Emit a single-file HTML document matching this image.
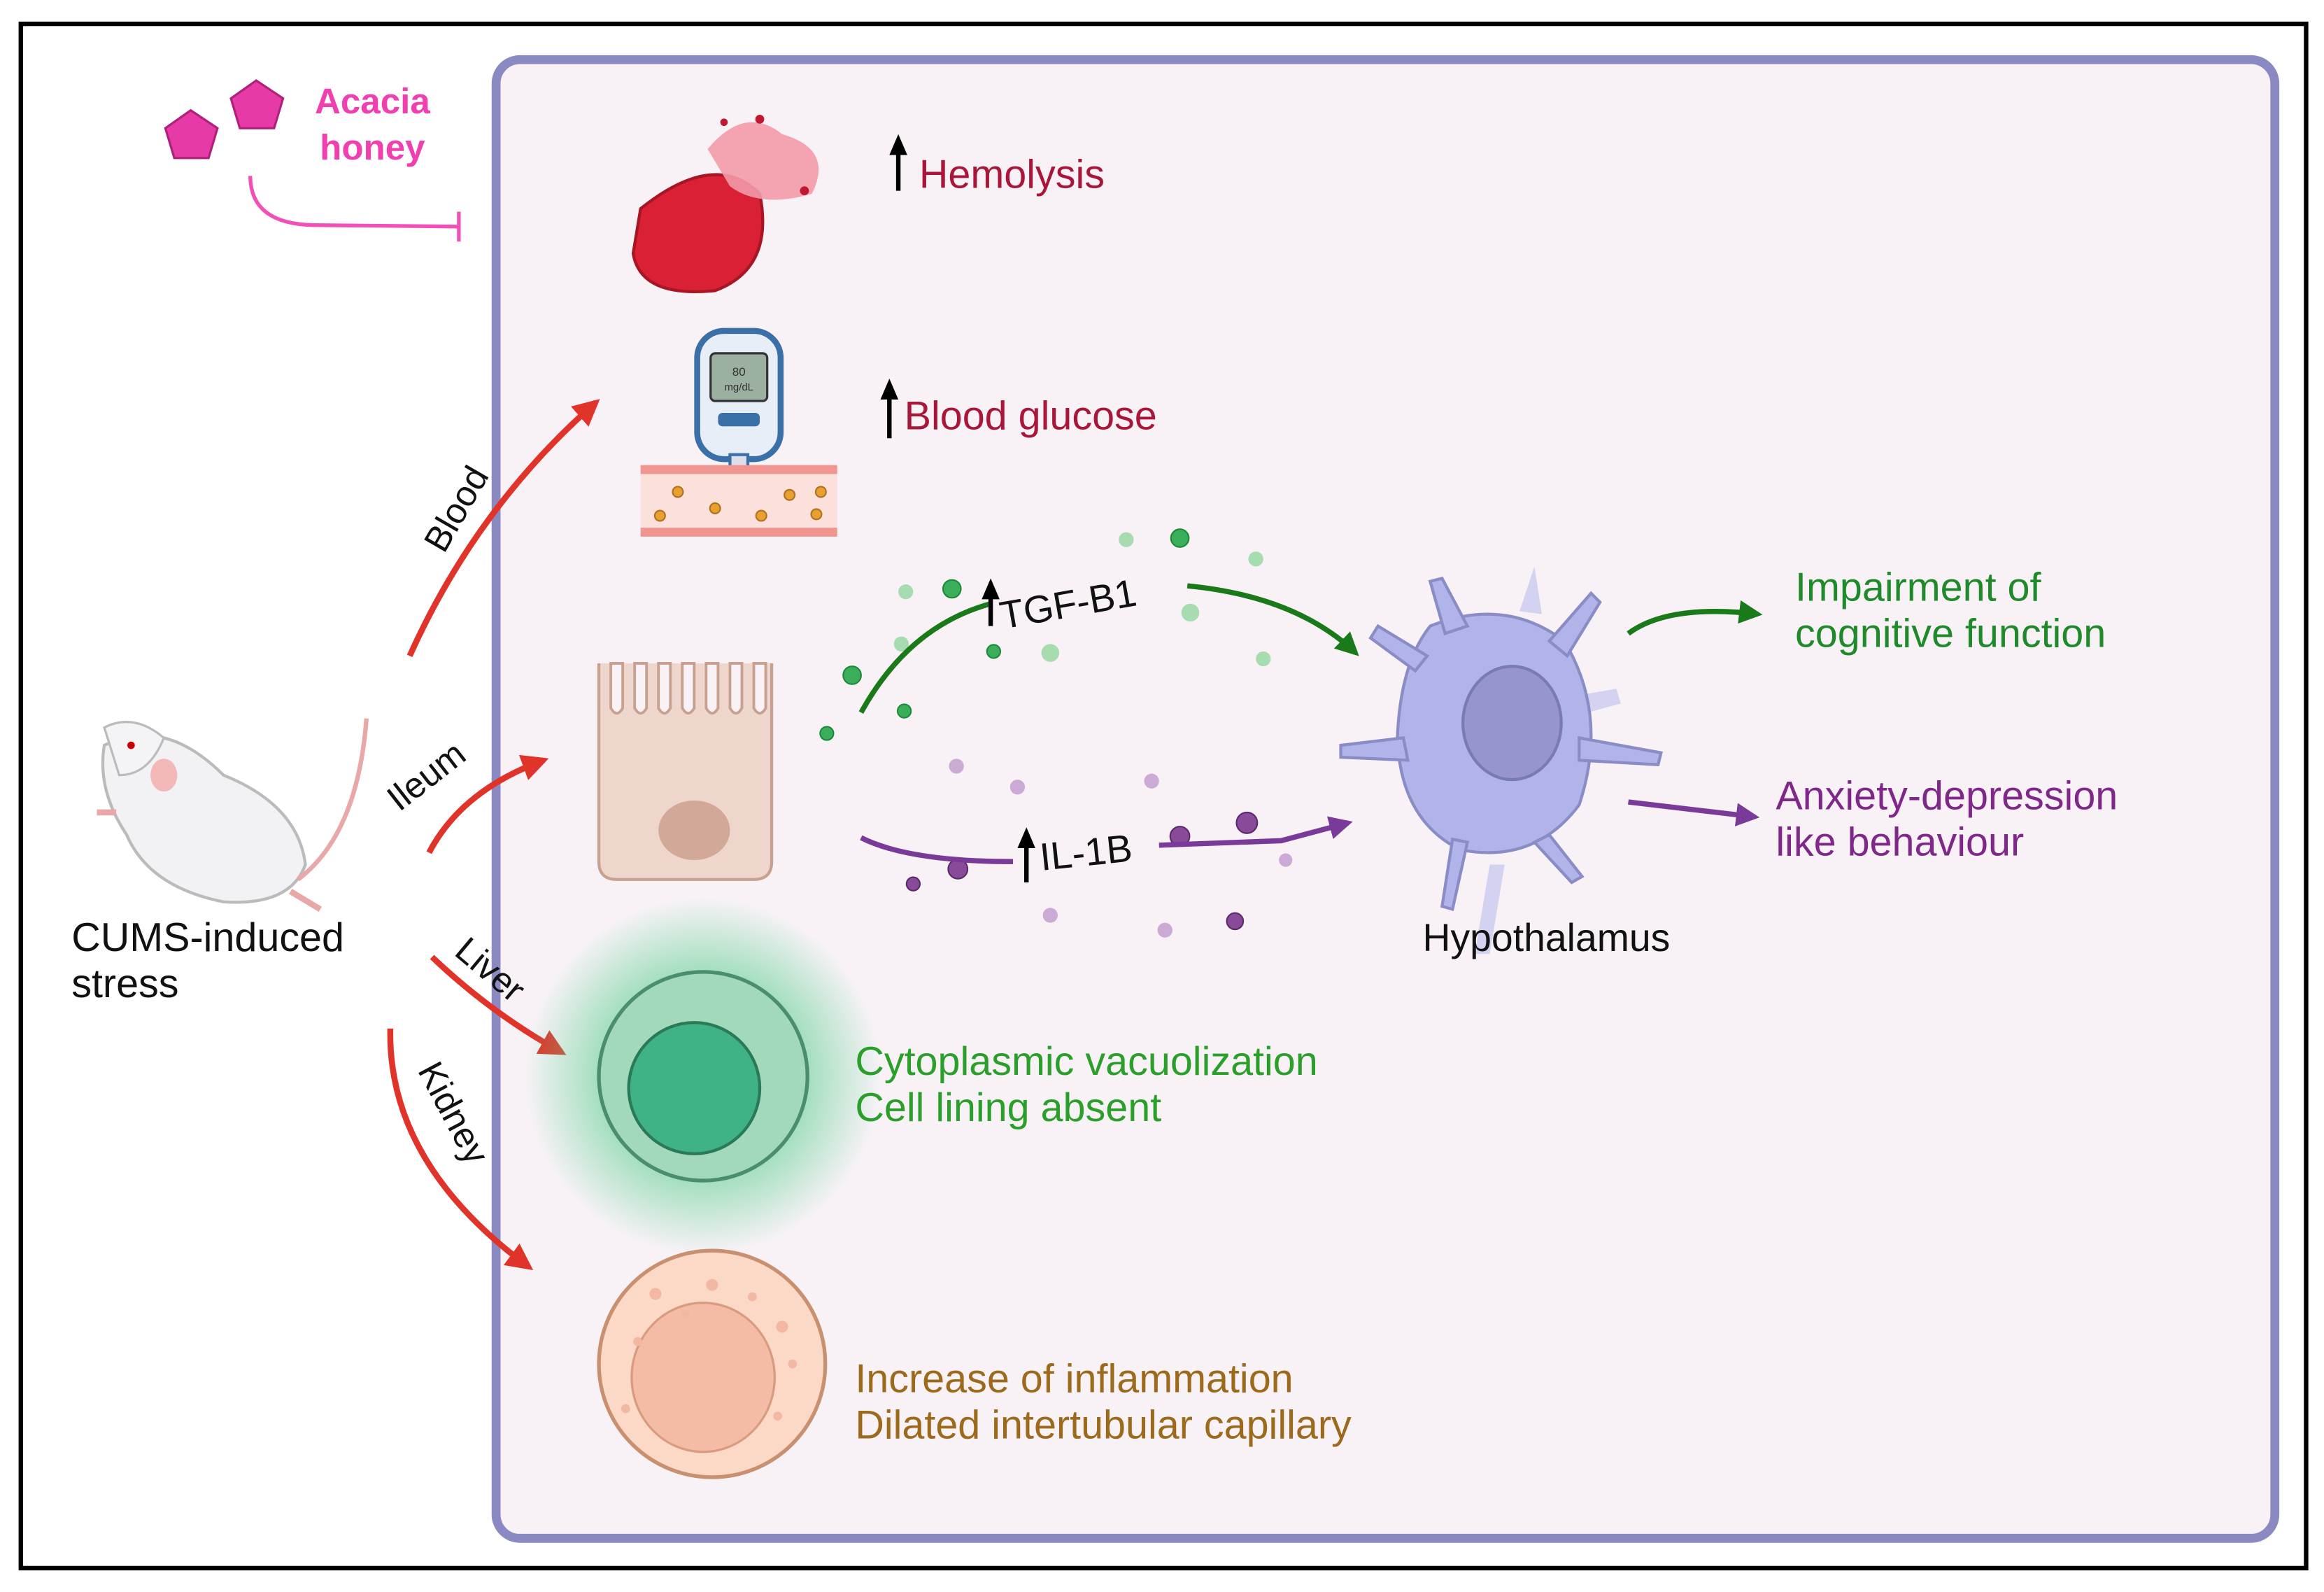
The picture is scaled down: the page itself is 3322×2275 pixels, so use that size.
<!DOCTYPE html>
<html><head><meta charset="utf-8"><style>
html,body{margin:0;padding:0;background:#fff;}
svg{display:block;}
text{font-family:"Liberation Sans","DejaVu Sans",sans-serif;}
</style></head><body>
<svg width="3322" height="2275" viewBox="0 0 1560 1068" preserveAspectRatio="none" xmlns="http://www.w3.org/2000/svg">
<defs>
<marker id="ar" viewBox="0 0 10 10" refX="8" refY="5" markerWidth="4.5" markerHeight="4.5" orient="auto"><path d="M0,0 L10,5 L0,10 z" fill="#e0342a"/></marker>
<marker id="ag" viewBox="0 0 10 10" refX="8" refY="5" markerWidth="4.5" markerHeight="4.5" orient="auto"><path d="M0,0 L10,5 L0,10 z" fill="#1a7a1a"/></marker>
<marker id="ap" viewBox="0 0 10 10" refX="8" refY="5" markerWidth="4.5" markerHeight="4.5" orient="auto"><path d="M0,0 L10,5 L0,10 z" fill="#7a3a9a"/></marker>
<radialGradient id="glow"><stop offset="0.55" stop-color="#5fcf90" stop-opacity="0.6"/><stop offset="1" stop-color="#5fcf90" stop-opacity="0"/></radialGradient>
</defs>
<rect x="0" y="0" width="1560" height="1068" fill="#fff"/>
<rect x="14" y="16" width="1534" height="1036" fill="#fff" stroke="#000" stroke-width="3"/>
<rect x="333" y="40" width="1194" height="992" rx="16" fill="#f8f2f7" stroke="#8b89c2" stroke-width="6"/>

<!-- honey -->
<polygon points="128,74 146,86 140,106 117,106 111,86" fill="#e63aa6" stroke="#b0207a" stroke-width="1.5"/>
<polygon points="172,54 190,66 184,86 161,86 155,66" fill="#e63aa6" stroke="#b0207a" stroke-width="1.5"/>
<text x="250" y="76" font-size="24" font-weight="bold" fill="#f040b0" text-anchor="middle">Acacia</text>
<text x="250" y="107" font-size="24" font-weight="bold" fill="#f040b0" text-anchor="middle">honey</text>
<path d="M168,118 Q168,150 210,151 L308,152" fill="none" stroke="#f050b8" stroke-width="2.5"/>
<line x1="308" y1="142" x2="308" y2="162" stroke="#f050b8" stroke-width="2.5"/>

<!-- RBC -->
<path d="M430,140 Q480,100 510,130 Q520,180 480,195 Q430,200 425,170 Z" fill="#d92035" stroke="#a81525" stroke-width="2"/>
<path d="M475,100 Q500,70 525,90 Q560,100 545,130 Q510,140 490,125 Z" fill="#f39aa8" opacity="0.9"/>
<circle cx="510" cy="80" r="3" fill="#c01830"/><circle cx="540" cy="128" r="3" fill="#c01830"/><circle cx="486" cy="82" r="2.5" fill="#c01830"/>
<path d="M603,128 L603,96" stroke="#000" stroke-width="3" marker-end="url(#ak)"/>
<polygon points="603,90 597,104 609,104" fill="#000"/>
<text x="617" y="126" font-size="27" fill="#a8163a">Hemolysis</text>

<!-- glucometer -->
<rect x="468" y="222" width="56" height="86" rx="18" fill="#e8eef8" stroke="#3a6fa8" stroke-width="4"/>
<rect x="477" y="237" width="38" height="32" rx="3" fill="#9bb0a0" stroke="#333" stroke-width="1.5"/>
<text x="496" y="252" font-size="8" fill="#333" text-anchor="middle">80</text>
<text x="496" y="262" font-size="7" fill="#333" text-anchor="middle">mg/dL</text>
<rect x="482" y="277" width="28" height="9" rx="3" fill="#3a6fa8"/>
<rect x="490" y="305" width="12" height="24" fill="#dde" stroke="#3a6fa8" stroke-width="2"/>
<rect x="430" y="314" width="132" height="46" fill="#fbe0dc"/>
<rect x="430" y="312" width="132" height="6" fill="#f0958f"/>
<rect x="430" y="354" width="132" height="6" fill="#f0958f"/>
<g fill="#e8a030" stroke="#b07020" stroke-width="1"><circle cx="455" cy="330" r="3.5"/><circle cx="443" cy="346" r="3.5"/><circle cx="480" cy="341" r="3.5"/><circle cx="511" cy="346" r="3.5"/><circle cx="530" cy="332" r="3.5"/><circle cx="548" cy="345" r="3.5"/><circle cx="551" cy="330" r="3.5"/></g>
<polygon points="597,254 591,268 603,268" fill="#000"/><line x1="597" y1="264" x2="597" y2="294" stroke="#000" stroke-width="3"/>
<text x="607" y="288" font-size="27" fill="#a8163a">Blood glucose</text>

<!-- red arrows -->
<path d="M275,440 Q320,340 400,270" fill="none" stroke="#e0342a" stroke-width="4" marker-end="url(#ar)"/>
<text transform="translate(298,372) rotate(-60)" font-size="24" fill="#111">Blood</text>
<path d="M288,572 Q310,530 365,510" fill="none" stroke="#e0342a" stroke-width="4" marker-end="url(#ar)"/>
<text transform="translate(268,545) rotate(-38)" font-size="24" fill="#111">Ileum</text>
<path d="M290,642 Q330,680 377,706" fill="none" stroke="#e0342a" stroke-width="4" marker-end="url(#ar)"/>
<text transform="translate(304,640) rotate(40)" font-size="24" fill="#111">Liver</text>
<path d="M262,690 Q260,780 355,850" fill="none" stroke="#e0342a" stroke-width="4" marker-end="url(#ar)"/>
<text transform="translate(280,718) rotate(62)" font-size="24" fill="#111">Kidney</text>

<!-- mouse -->
<g>
<path d="M70,500 Q110,480 150,520 Q200,540 205,580 Q195,608 150,605 Q100,595 85,560 Q65,530 70,500 Z" fill="#f2f2f4" stroke="#bbb" stroke-width="2"/>
<path d="M70,488 Q90,478 110,495 Q100,520 80,520 Z" fill="#f4f4f6" stroke="#bbb" stroke-width="1.5"/>
<ellipse cx="110" cy="520" rx="9" ry="11" fill="#f3b8b8"/>
<circle cx="88" cy="500" r="2.5" fill="#c00"/>
<path d="M200,590 Q240,560 246,482" fill="none" stroke="#e8a8a8" stroke-width="3"/>
<path d="M195,598 L215,610" stroke="#e8a8a8" stroke-width="4"/>
<path d="M65,545 L78,545" stroke="#e8a8a8" stroke-width="4"/>
</g>
<text x="48" y="638" font-size="27" fill="#111">CUMS-induced</text>
<text x="48" y="669" font-size="27" fill="#111">stress</text>

<!-- ileum cell -->
<path d="M402,445 L402,578 Q402,590 414,590 L506,590 Q518,590 518,578 L518,445" fill="#eed6cc" stroke="#c8a090" stroke-width="2"/>
<g fill="#f8f2f7" stroke="#c8a090" stroke-width="1.8">
<path d="M410,445 L410,475 Q414,482 418,475 L418,445 Z"/><path d="M426,445 L426,475 Q430,482 434,475 L434,445 Z"/><path d="M442,445 L442,475 Q446,482 450,475 L450,445 Z"/><path d="M458,445 L458,475 Q462,482 466,475 L466,445 Z"/><path d="M474,445 L474,475 Q478,482 482,475 L482,445 Z"/><path d="M490,445 L490,475 Q494,482 498,475 L498,445 Z"/><path d="M506,445 L506,475 Q510,482 514,475 L514,445 Z"/>
</g>
<ellipse cx="466" cy="557" rx="24" ry="20" fill="#d2a898"/>

<!-- liver cell -->
<circle cx="472" cy="722" r="120" fill="url(#glow)"/>
<circle cx="472" cy="722" r="70" fill="#a3d9bb" stroke="#4a8f6c" stroke-width="2.5"/>
<circle cx="466" cy="730" r="44" fill="#3fb286" stroke="#2a7a5a" stroke-width="2"/>
<text x="574" y="721" font-size="27" fill="#2aa02a">Cytoplasmic vacuolization</text>
<text x="574" y="752" font-size="27" fill="#2aa02a">Cell lining absent</text>

<!-- kidney cell -->
<circle cx="478" cy="915" r="76" fill="#fbd9c6" stroke="#c8906f" stroke-width="2.5"/>
<ellipse cx="472" cy="924" rx="48" ry="50" fill="#f4bca4" stroke="#d99a80" stroke-width="1.5"/>
<g fill="#f2b8a4"><circle cx="440" cy="868" r="4"/><circle cx="478" cy="862" r="4"/><circle cx="505" cy="870" r="3"/><circle cx="525" cy="890" r="4"/><circle cx="532" cy="915" r="3"/><circle cx="522" cy="950" r="3"/><circle cx="428" cy="900" r="3"/><circle cx="420" cy="945" r="3"/><circle cx="460" cy="882" r="3"/></g>
<text x="574" y="934" font-size="27" fill="#9c6a1a">Increase of inflammation</text>
<text x="574" y="965" font-size="27" fill="#9c6a1a">Dilated intertubular capillary</text>

<!-- TGF dots -->
<g fill="#3aae5a" stroke="#1d8a3a" stroke-width="1"><circle cx="639" cy="395" r="6"/><circle cx="792" cy="361" r="6"/><circle cx="572" cy="453" r="6"/><circle cx="667" cy="437" r="4.5"/><circle cx="607" cy="477" r="4.5"/><circle cx="555" cy="492" r="4.5"/></g>
<g fill="#a6dcb0"><circle cx="608" cy="397" r="5"/><circle cx="756" cy="362" r="5"/><circle cx="843" cy="375" r="5"/><circle cx="799" cy="411" r="6"/><circle cx="605" cy="432" r="5"/><circle cx="705" cy="438" r="6"/><circle cx="848" cy="442" r="5"/></g>
<path d="M578,478 Q610,420 665,405" fill="none" stroke="#1a7a1a" stroke-width="3.5"/>
<path d="M797,393 Q870,400 910,438" fill="none" stroke="#1a7a1a" stroke-width="3.5" marker-end="url(#ag)"/>
<polygon points="665,388 659,402 671,402" fill="#000"/><line x1="665" y1="398" x2="665" y2="420" stroke="#000" stroke-width="3"/>
<text transform="translate(673,422) rotate(-10)" font-size="26" fill="#111">TGF-B1</text>

<!-- IL dots -->
<g fill="#cbaad6"><circle cx="642" cy="514" r="5"/><circle cx="683" cy="528" r="5"/><circle cx="773" cy="524" r="5"/><circle cx="705" cy="614" r="5"/><circle cx="782" cy="624" r="5"/><circle cx="863" cy="577" r="4.5"/></g>
<g fill="#8a4a9a" stroke="#5a2a6a" stroke-width="1"><circle cx="643" cy="583" r="6.5"/><circle cx="613" cy="593" r="4.5"/><circle cx="792" cy="561" r="6.5"/><circle cx="837" cy="552" r="7"/><circle cx="829" cy="618" r="5.5"/></g>
<path d="M578,562 Q610,578 680,578" fill="none" stroke="#7a3a9a" stroke-width="3.5"/>
<path d="M778,567 L860,564 L905,552" fill="none" stroke="#7a3a9a" stroke-width="3.5" marker-end="url(#ap)"/>
<polygon points="689,555 683,569 695,569" fill="#000"/><line x1="689" y1="565" x2="689" y2="592" stroke="#000" stroke-width="3"/>
<text transform="translate(699,584) rotate(-6)" font-size="26" fill="#111">IL-1B</text>

<!-- hypothalamus neuron -->
<g fill="#c9c9ee" opacity="0.8"><path d="M1040,470 L1085,462 L1088,472 L1040,485Z"/><path d="M1000,580 L990,640 L1000,640 L1010,580Z"/><path d="M1020,410 L1030,380 L1035,412Z"/></g>
<g fill="#b1b4e8" stroke="#8a8cc6" stroke-width="2">
<path d="M960,420 Q1010,400 1050,430 Q1080,480 1060,540 Q1030,580 980,570 Q940,550 938,495 Q940,445 960,420 Z"/>
<path d="M970,425 L960,390 L968,388 L985,420Z"/>
<path d="M1040,430 L1068,398 L1074,404 L1052,440Z"/>
<path d="M950,450 L920,428 L925,420 L958,440Z"/>
<path d="M942,495 L900,500 L900,508 L945,510Z"/>
<path d="M1060,495 L1115,505 L1113,513 L1060,510Z"/>
<path d="M1040,560 L1062,588 L1055,592 L1030,565Z"/>
<path d="M985,565 L975,610 L968,608 L975,563Z"/>
</g>
<ellipse cx="1015" cy="485" rx="33" ry="38" fill="#9796cc" stroke="#7a7ab4" stroke-width="2"/>
<text x="1038" y="638" font-size="26" fill="#111" text-anchor="middle">Hypothalamus</text>

<path d="M1093,425 Q1120,405 1180,412" fill="none" stroke="#1a7a1a" stroke-width="3.5" marker-end="url(#ag)"/>
<text x="1205" y="403" font-size="27" fill="#1f8a2a">Impairment of</text>
<text x="1205" y="434" font-size="27" fill="#1f8a2a">cognitive function</text>
<path d="M1093,538 L1178,548" fill="none" stroke="#7a3a9a" stroke-width="3.5" marker-end="url(#ap)"/>
<text x="1192" y="543" font-size="27" fill="#80288a">Anxiety-depression</text>
<text x="1192" y="574" font-size="27" fill="#80288a">like behaviour</text>
</svg>
</body></html>
